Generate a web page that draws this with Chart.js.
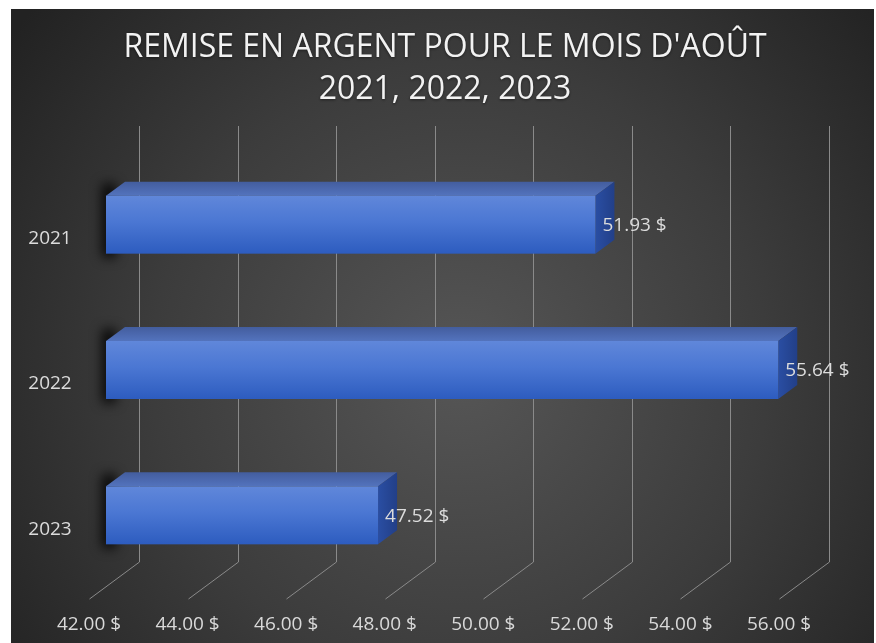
<!DOCTYPE html>
<html>
<head>
<meta charset="utf-8">
<script src="https://cdn.jsdelivr.net/npm/chart.js@4.4.1/dist/chart.umd.min.js"></script>
<style>
  body { margin: 0; background: #ffffff; }
  canvas { display: block; }
</style>
</head>
<body>
<canvas id="myChart" width="876" height="643"></canvas>
<script>
const years = ['2021', '2022', '2023'];
const remise = [51.93, 55.64, 47.52];
const xTicks = [42, 44, 46, 48, 50, 52, 54, 56];
const titleLines = ["REMISE EN ARGENT POUR LE MOIS D'AOÛT", '2021, 2022, 2023'];

const fmt = (v) => v.toFixed(2) + ' $';

// depth of the 3d bars
const barDx = 19, barDy = -14;

const decor = {
  id: 'decor',
  beforeDraw(chart) {
    const c = chart.ctx;
    const xs = chart.scales.x;
    const area = chart.chartArea;
    c.save();
    // dark panel
    const g = c.createRadialGradient(460, 370, 0, 460, 370, 560);
    g.addColorStop(0, '#565656');
    g.addColorStop(0.55, '#3c3c3c');
    g.addColorStop(1, '#222222');
    c.fillStyle = g;
    c.fillRect(11, 9, 863, 634);

    // title
    c.fillStyle = '#f2f2f2';
    c.textAlign = 'center';
    c.textBaseline = 'middle';
    c.font = '32px "Open Sans"';
    c.shadowColor = 'rgba(0,0,0,0.5)';
    c.shadowBlur = 3;
    c.shadowOffsetY = 1;
    c.fillText(titleLines[0], 445, 48);
    c.fillText(titleLines[1], 445, 90);
    c.shadowColor = 'transparent';

    // grid: back wall lines + floor diagonals
    c.strokeStyle = '#8a8a8a';
    c.lineWidth = 1;
    xTicks.forEach((v) => {
      const px = Math.round(xs.getPixelForValue(v)) + 0.5;
      c.beginPath();
      c.moveTo(px + 33, area.top - 26);
      c.lineTo(px + 33, area.bottom - 26);
      c.lineTo(px - 17, area.bottom + 11);
      c.stroke();
    });

    // x tick labels
    c.fillStyle = '#d9d9d9';
    c.font = '19px "Open Sans"';
    xTicks.forEach((v) => {
      c.fillText(fmt(v), xs.getPixelForValue(v) - 17, area.bottom + 37);
    });
    c.restore();
  },
  afterDatasetsDraw(chart) {
    const c = chart.ctx;
    const meta = chart.getDatasetMeta(0);
    const ys = chart.scales.y;
    c.save();
    meta.data.forEach((bar, i) => {
      const x0 = bar.base, x1 = bar.x;
      const top = bar.y - bar.height / 2, bot = bar.y + bar.height / 2;

      // soft shadow at the left end
      c.save();
      c.filter = 'blur(6px)';
      c.fillStyle = 'rgba(0,0,0,0.85)';
      c.fillRect(x0 - 4, top - 12, 14, bot - top + 16);
      c.restore();

      // top face
      const gt = c.createLinearGradient(0, top + barDy, 0, top);
      gt.addColorStop(0, '#435d9e');
      gt.addColorStop(1, '#5373bd');
      c.fillStyle = gt;
      c.beginPath();
      c.moveTo(x0, top);
      c.lineTo(x0 + barDx, top + barDy);
      c.lineTo(x1 + barDx, top + barDy);
      c.lineTo(x1, top);
      c.closePath();
      c.fill();

      // end face
      const gs = c.createLinearGradient(x1, 0, x1 + barDx, 0);
      gs.addColorStop(0, '#2a4ea3');
      gs.addColorStop(1, '#223f88');
      c.fillStyle = gs;
      c.beginPath();
      c.moveTo(x1, top);
      c.lineTo(x1 + barDx, top + barDy);
      c.lineTo(x1 + barDx, bot + barDy);
      c.lineTo(x1, bot);
      c.closePath();
      c.fill();

      // front face
      const gf = c.createLinearGradient(0, top, 0, bot);
      gf.addColorStop(0, '#6087da');
      gf.addColorStop(0.45, '#4b77d3');
      gf.addColorStop(1, '#2d5cbf');
      c.fillStyle = gf;
      c.fillRect(x0, top, x1 - x0, bot - top);

      // value label
      c.fillStyle = '#dcdcdc';
      c.font = '19px "Open Sans"';
      c.textAlign = 'left';
      c.textBaseline = 'middle';
      c.fillText(fmt(remise[i]), x1 + 7, bar.y + 1);

      // category label
      c.textAlign = 'center';
      c.fillText(years[i], 50, ys.getPixelForValue(i) + 14);
    });
    c.restore();
  }
};

const ctx = document.getElementById('myChart');

new Chart(ctx, {
  type: 'bar',
  data: {
    labels: years,
    datasets: [{
      data: remise,
      base: 42,
      backgroundColor: 'rgba(0,0,0,0)',
      borderWidth: 0,
      barThickness: 58
    }]
  },
  options: {
    indexAxis: 'y',
    responsive: false,
    devicePixelRatio: 1,
    animation: false,
    layout: {
      padding: { left: 106, right: 80, top: 152, bottom: 55 }
    },
    plugins: {
      legend: { display: false },
      tooltip: { enabled: false }
    },
    scales: {
      x: {
        display: false,
        min: 42,
        max: 56
      },
      y: {
        display: false
      }
    }
  },
  plugins: [decor]
});
</script>
</body>
</html>
